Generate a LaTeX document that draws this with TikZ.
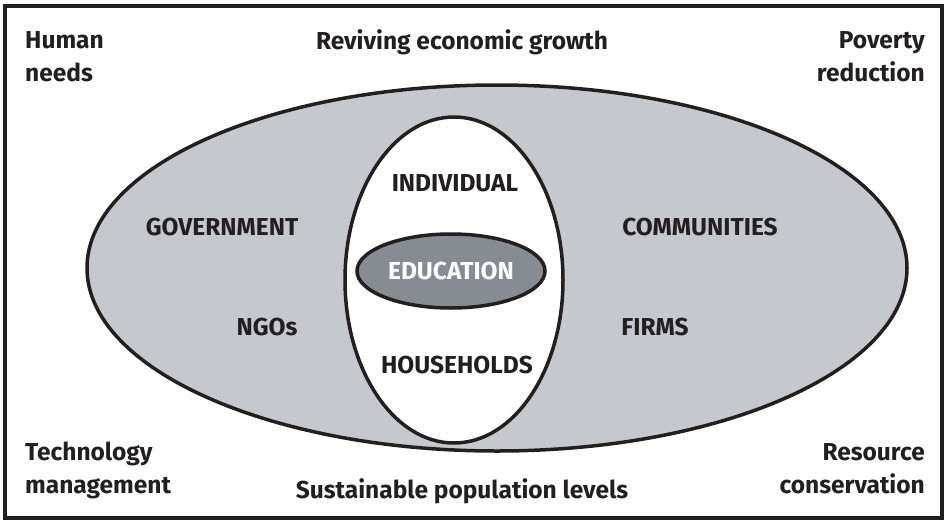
\documentclass[tikz,border=0pt]{standalone}
\usepackage{fontspec}
\setmainfont{Fira Sans}
\usetikzlibrary{shapes.geometric}
\definecolor{ink}{HTML}{231F20}
\definecolor{ringfill}{HTML}{C5C8CD}
\definecolor{corefill}{HTML}{878C92}
\begin{document}
\begin{tikzpicture}[x=1pt,y=-1pt,
  lbl/.style={font=\bfseries\fontsize{24.5}{33}\selectfont, text=ink, inner sep=0pt},
  oval/.style={draw=ink, line width=3.5pt, ellipse, inner sep=0pt}]
\useasboundingbox (0,0) rectangle (946,523);
% frame
\draw[ink, line width=4pt] (5,6) rectangle (942,518);
% nested ovals
\node[oval, fill=ringfill, minimum width=820, minimum height=366] (society) at (497,268) {};
\node[oval, fill=white, minimum width=218, minimum height=326] (people) at (454,280) {};
\node[oval, fill=corefill, minimum width=188, minimum height=74, font=\bfseries\fontsize{24.5}{33}\selectfont, text=white] (edu) at (451,271) {EDUCATION};
% corner and edge themes (base = last line)
\node[lbl, anchor=base west, align=left] (human) at (25,81) {Human\\needs};
\node[lbl, anchor=base] (growth) at (462,49) {Reviving economic growth};
\node[lbl, anchor=base east, align=right] (poverty) at (925,81) {Poverty\\reduction};
\node[lbl, anchor=base west, align=left] (tech) at (25,493) {Technology\\management};
\node[lbl, anchor=base] (pop) at (462,498) {Sustainable population levels};
\node[lbl, anchor=base east, align=right] (resource) at (925,493) {Resource\\conservation};
% actors
\node[lbl] (gov) at (222,227) {GOVERNMENT};
\node[lbl] (comm) at (700,227) {COMMUNITIES};
\node[lbl] (ngo) at (267,327) {NGOs};
\node[lbl] (firms) at (655,327) {FIRMS};
\node[lbl] (ind) at (455,183) {INDIVIDUAL};
\node[lbl] (house) at (457,365) {HOUSEHOLDS};
\end{tikzpicture}
\end{document}
